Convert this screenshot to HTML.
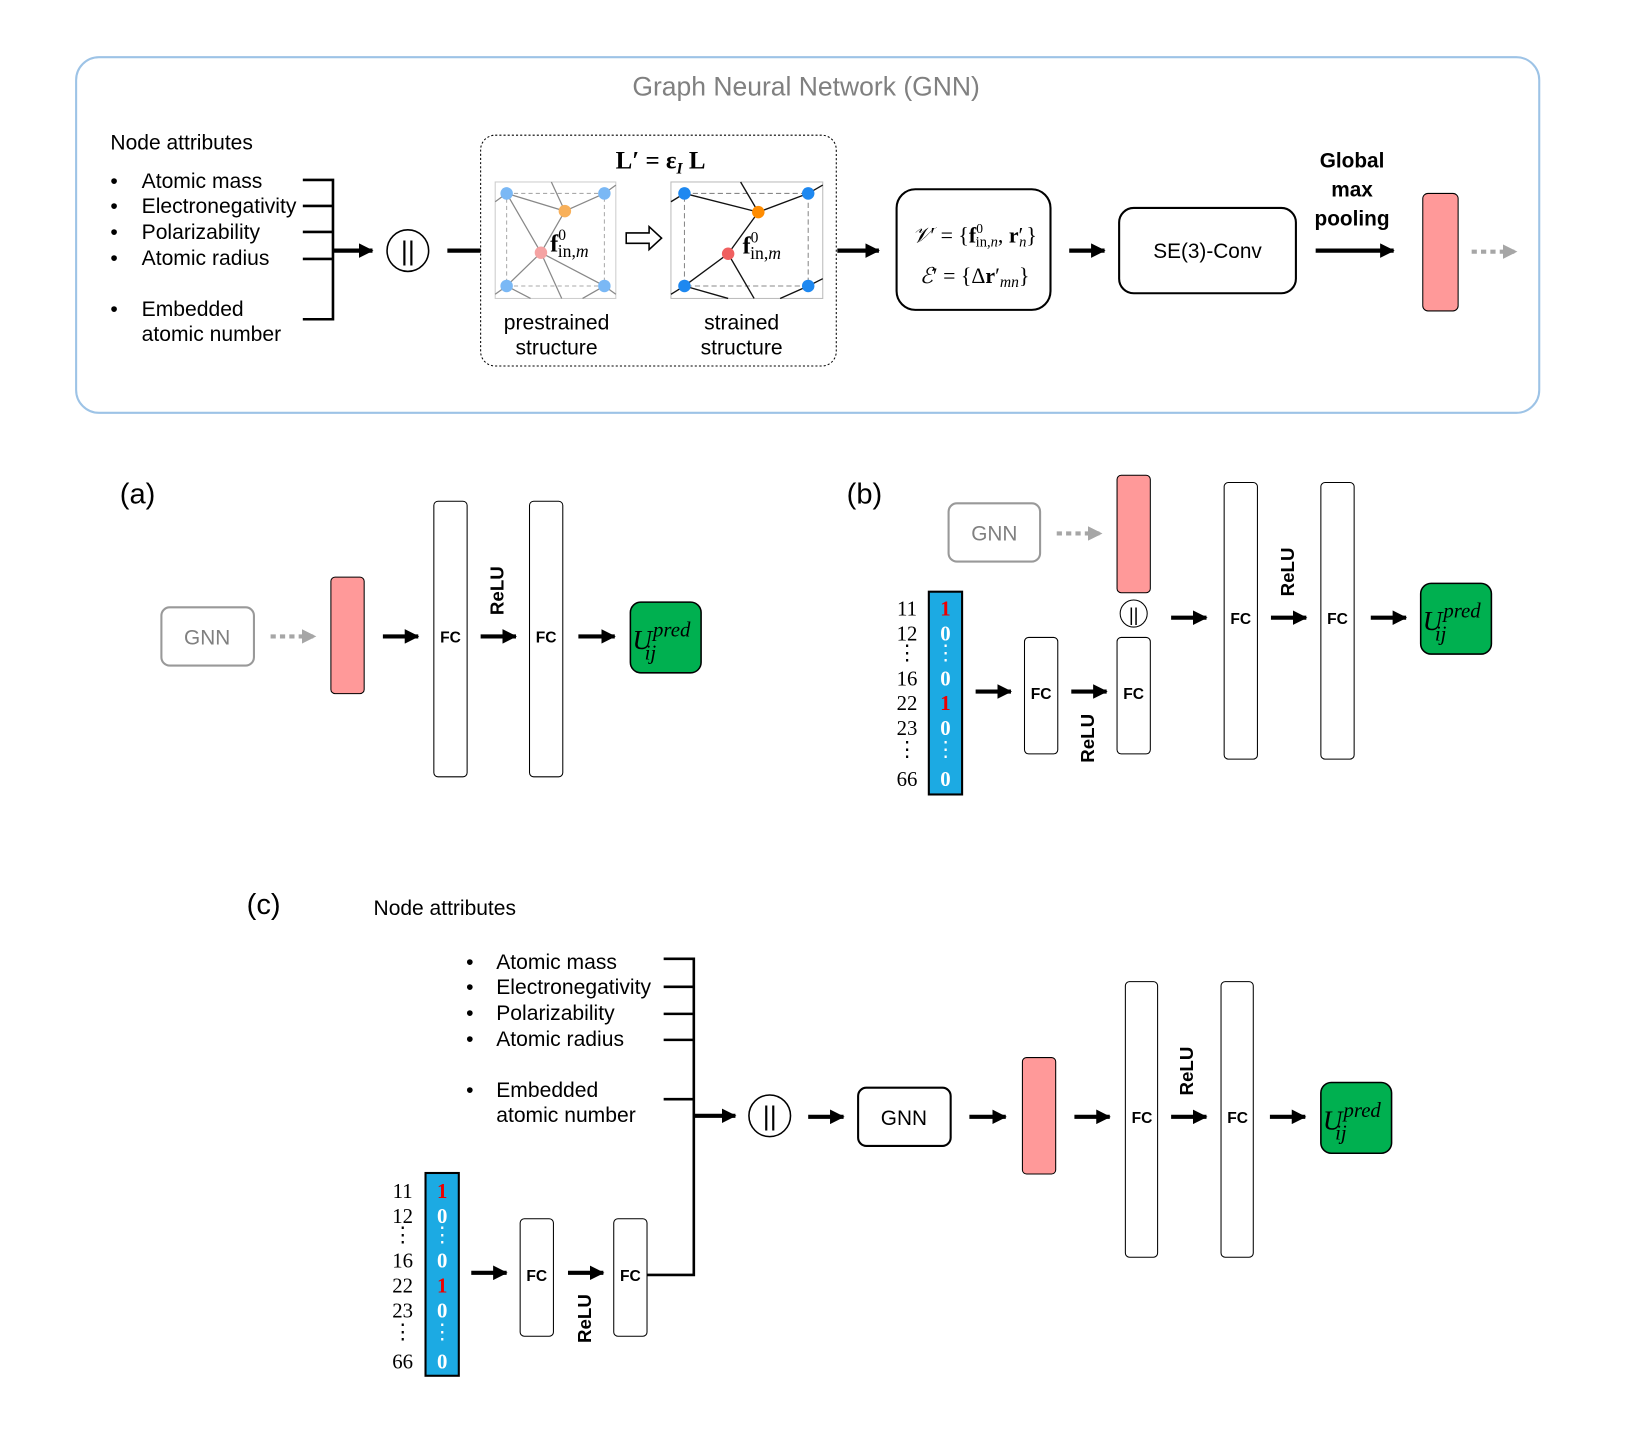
<!DOCTYPE html>
<html><head><meta charset="utf-8"><style>
html,body{margin:0;padding:0;background:#fff;}
svg{display:block;}
.s{font-family:"Liberation Sans",sans-serif;}
.m{font-family:"Liberation Serif",serif;}
.fc{font-family:"Liberation Sans",sans-serif;font-weight:bold;font-size:15px;}
</style></head><body>
<svg width="1632" height="1434" viewBox="0 0 1569 1379" xmlns="http://www.w3.org/2000/svg">
<defs>
<marker id="ah" markerUnits="userSpaceOnUse" markerWidth="14" markerHeight="14" refX="13" refY="7" orient="auto"><path d="M0,0 L14,7 L0,14 Z" fill="#000"/></marker>
<marker id="gh" markerUnits="userSpaceOnUse" markerWidth="14" markerHeight="14" refX="13" refY="7" orient="auto"><path d="M0,0 L14,7 L0,14 Z" fill="#a6a6a6"/></marker>
</defs>
<g class="s">
<!-- top box -->
<rect x="73" y="55" width="1407" height="342" rx="22" fill="none" stroke="#9dc3e6" stroke-width="2"/>
<text x="775" y="92" text-anchor="middle" font-size="25.5" fill="#808080">Graph Neural Network (GNN)</text>
<text x="106" y="144" font-size="20.2">Node attributes</text>
<g font-size="20.3">
<text x="106" y="181">•</text><text x="136" y="181">Atomic mass</text>
<text x="106" y="205">•</text><text x="136" y="205">Electronegativity</text>
<text x="106" y="230">•</text><text x="136" y="230">Polarizability</text>
<text x="106" y="255">•</text><text x="136" y="255">Atomic radius</text>
<text x="106" y="304">•</text><text x="136" y="304">Embedded</text>
<text x="136" y="328">atomic number</text>
</g>
<g stroke="#000" stroke-width="2.5" fill="none">
<path d="M291,173H320V307H291 M291,198H320 M291,223H320 M291,249H320"/>
</g>
<line x1="320" y1="241" x2="358" y2="241" stroke="#000" stroke-width="4" marker-end="url(#ah)"/>
<circle cx="392" cy="241" r="20" fill="none" stroke="#000" stroke-width="1.5"/>
<text x="392" y="250" text-anchor="middle" font-size="26">||</text>
<line x1="430" y1="241" x2="462" y2="241" stroke="#000" stroke-width="4"/>
<rect x="462" y="130" width="342" height="222" rx="14" fill="none" stroke="#000" stroke-width="1" stroke-dasharray="2,2"/>
<text x="635" y="162" text-anchor="middle" class="m" font-size="24" font-weight="bold">L′ = ε<tspan font-size="15" dy="5" font-style="italic">I</tspan><tspan dy="-5"> L</tspan></text>
<!-- left lattice -->
<rect x="476" y="175" width="116" height="112" fill="#fff" stroke="#ccc"/>
<rect x="487" y="186" width="94" height="89" fill="none" stroke="#aaa" stroke-dasharray="4,3"/>
<g stroke="#888" stroke-width="1.2">
<line x1="487" y1="186" x2="543" y2="203"/><line x1="543" y1="203" x2="581" y2="186"/>
<line x1="543" y1="203" x2="520" y2="243"/><line x1="487" y1="186" x2="520" y2="243"/>
<line x1="520" y1="243" x2="487" y2="275"/><line x1="520" y1="243" x2="581" y2="275"/>
<line x1="520" y1="243" x2="540" y2="287"/><line x1="530" y1="175" x2="543" y2="203"/>
<line x1="476" y1="194" x2="487" y2="186"/><line x1="581" y1="186" x2="592" y2="178"/>
<line x1="476" y1="283" x2="487" y2="275"/><line x1="581" y1="275" x2="592" y2="283"/>
<line x1="487" y1="275" x2="510" y2="287"/><line x1="581" y1="275" x2="560" y2="287"/>
</g>
<g fill="#7ab8f5"><circle cx="487" cy="186" r="6"/><circle cx="581" cy="186" r="6"/><circle cx="487" cy="275" r="6"/><circle cx="581" cy="275" r="6"/></g>
<circle cx="543" cy="203" r="6" fill="#f8b05a"/><circle cx="520" cy="243" r="6" fill="#f5a3a3"/>
<text x="529" y="242" class="m" font-size="23" font-weight="bold">f<tspan font-size="15" dy="-11" font-weight="normal">0</tspan><tspan font-size="17" dx="-8" dy="16" font-weight="normal">in,<tspan font-style="italic">m</tspan></tspan></text>
<!-- hollow arrow -->
<path d="M602,224H624V218L636,229L624,240V234H602Z" fill="#fff" stroke="#000" stroke-width="1.5"/>
<!-- right lattice -->
<rect x="645" y="175" width="146" height="112" fill="#fff" stroke="#bbb"/>
<rect x="658" y="186" width="119" height="89" fill="none" stroke="#888" stroke-dasharray="5,3"/>
<g stroke="#111" stroke-width="1.3">
<line x1="658" y1="186" x2="729" y2="204"/><line x1="729" y1="204" x2="777" y2="186"/>
<line x1="729" y1="204" x2="700" y2="244"/><line x1="712" y1="175" x2="729" y2="204"/>
<line x1="700" y1="244" x2="658" y2="275"/><line x1="700" y1="244" x2="725" y2="287"/>
<line x1="645" y1="194" x2="658" y2="186"/><line x1="777" y1="186" x2="791" y2="178"/>
<line x1="645" y1="283" x2="658" y2="275"/><line x1="658" y1="275" x2="700" y2="287"/>
<line x1="777" y1="275" x2="791" y2="268"/><line x1="777" y1="275" x2="750" y2="287"/>
</g>
<g fill="#1e88f0"><circle cx="658" cy="186" r="6"/><circle cx="777" cy="186" r="6"/><circle cx="658" cy="275" r="6"/><circle cx="777" cy="275" r="6"/></g>
<circle cx="729" cy="204" r="6" fill="#ff8c00"/><circle cx="700" cy="244" r="6" fill="#f06060"/>
<text x="714" y="244" class="m" font-size="23" font-weight="bold">f<tspan font-size="15" dy="-11" font-weight="normal">0</tspan><tspan font-size="17" dx="-8" dy="16" font-weight="normal">in,<tspan font-style="italic">m</tspan></tspan></text>
<g font-size="20.3" text-anchor="middle">
<text x="535" y="317">prestrained</text><text x="535" y="341">structure</text>
<text x="713" y="317">strained</text><text x="713" y="341">structure</text>
</g>
<line x1="805" y1="241" x2="845" y2="241" stroke="#000" stroke-width="4" marker-end="url(#ah)"/>
<rect x="862" y="182" width="148" height="116" rx="18" fill="none" stroke="#000" stroke-width="2"/>
<text x="937" y="233" text-anchor="middle" class="m" font-size="21"><tspan font-style="italic">𝒱</tspan>′ = {<tspan font-weight="bold">f</tspan><tspan font-size="13" dy="-9">0</tspan><tspan font-size="14" dx="-7" dy="13">in,<tspan font-style="italic">n</tspan></tspan><tspan dy="-4">, </tspan><tspan font-weight="bold">r</tspan>′<tspan font-size="14" font-style="italic" dx="-4" dy="4">n</tspan><tspan dy="-4">}</tspan></text>
<text x="937" y="272" text-anchor="middle" class="m" font-size="21"><tspan font-style="italic">ℰ</tspan>′ = {Δ<tspan font-weight="bold">r</tspan>′<tspan font-size="15" font-style="italic" dy="4">mn</tspan><tspan dy="-4">}</tspan></text>
<line x1="1028" y1="241" x2="1062" y2="241" stroke="#000" stroke-width="4" marker-end="url(#ah)"/>
<rect x="1076" y="200" width="170" height="82" rx="14" fill="none" stroke="#000" stroke-width="2"/>
<text x="1161" y="248" text-anchor="middle" font-size="20">SE(3)-Conv</text>
<g font-size="20" font-weight="bold" text-anchor="middle">
<text x="1300" y="161">Global</text><text x="1300" y="189">max</text><text x="1300" y="217">pooling</text>
</g>
<line x1="1265" y1="241" x2="1340" y2="241" stroke="#000" stroke-width="4" marker-end="url(#ah)"/>
<rect x="1368" y="186" width="34" height="113" rx="5" fill="#ff9999" stroke="#000"/>
<line x1="1415" y1="242" x2="1458" y2="242" stroke="#a6a6a6" stroke-width="4" stroke-dasharray="5,4" marker-end="url(#gh)"/>

<!-- (a) -->
<text x="115" y="484" font-size="28">(a)</text>
<rect x="155" y="584" width="89" height="56" rx="8" fill="none" stroke="#999" stroke-width="2"/>
<text x="199" y="620" text-anchor="middle" font-size="20" fill="#808080">GNN</text>
<line x1="260" y1="612" x2="303" y2="612" stroke="#a6a6a6" stroke-width="4" stroke-dasharray="5,4" marker-end="url(#gh)"/>
<rect x="318" y="555" width="32" height="112" rx="4" fill="#ff9999" stroke="#000"/>
<line x1="368" y1="612" x2="402" y2="612" stroke="#000" stroke-width="4" marker-end="url(#ah)"/>
<rect x="417" y="482" width="32" height="265" rx="4" fill="none" stroke="#000"/>
<text x="433" y="618" text-anchor="middle" class="fc">FC</text>
<text transform="translate(484,568) rotate(-90)" text-anchor="middle" font-size="18" font-weight="bold">ReLU</text>
<line x1="462" y1="612" x2="496" y2="612" stroke="#000" stroke-width="4" marker-end="url(#ah)"/>
<rect x="509" y="482" width="32" height="265" rx="4" fill="none" stroke="#000"/>
<text x="525" y="618" text-anchor="middle" class="fc">FC</text>
<line x1="556" y1="612" x2="591" y2="612" stroke="#000" stroke-width="4" marker-end="url(#ah)"/>
<rect x="606" y="579" width="68" height="68" rx="10" fill="#00b050" stroke="#000" stroke-width="1.5"/>
<text x="608" y="624" class="m" font-size="26" font-style="italic">U<tspan font-size="20" dx="1" dy="-12">pred</tspan><tspan font-size="20" dx="-44" dy="22">ij</tspan></text>

<!-- (b) -->
<text x="814" y="484" font-size="28">(b)</text>
<rect x="912" y="484" width="88" height="56" rx="8" fill="none" stroke="#999" stroke-width="2"/>
<text x="956" y="520" text-anchor="middle" font-size="20" fill="#808080">GNN</text>
<line x1="1016" y1="513" x2="1059" y2="513" stroke="#a6a6a6" stroke-width="4" stroke-dasharray="5,4" marker-end="url(#gh)"/>
<rect x="1074" y="457" width="32" height="113" rx="4" fill="#ff9999" stroke="#000"/>
<circle cx="1090" cy="590" r="13" fill="none" stroke="#000"/>
<text x="1090" y="597" text-anchor="middle" font-size="18">||</text>
<g class="m" font-size="20" text-anchor="middle">
<text x="872" y="592">11</text><text x="872" y="616">12</text><text x="872" y="634">⋮</text>
<text x="872" y="659">16</text><text x="872" y="683">22</text><text x="872" y="707">23</text>
<text x="872" y="727">⋮</text><text x="872" y="756">66</text>
</g>
<rect x="893" y="569" width="32" height="195" fill="#1caae3" stroke="#000" stroke-width="2"/>
<g class="m" font-size="20" font-weight="bold" text-anchor="middle" fill="#fff">
<text x="909" y="592" fill="#e00">1</text><text x="909" y="616">0</text><text x="909" y="634" font-weight="normal">⋮</text>
<text x="909" y="659">0</text><text x="909" y="683" fill="#e00">1</text><text x="909" y="707">0</text>
<text x="909" y="727" font-weight="normal">⋮</text><text x="909" y="756">0</text>
</g>
<line x1="938" y1="665" x2="972" y2="665" stroke="#000" stroke-width="4" marker-end="url(#ah)"/>
<rect x="985" y="613" width="32" height="112" rx="4" fill="none" stroke="#000"/>
<text x="1001" y="672" text-anchor="middle" class="fc">FC</text>
<line x1="1030" y1="665" x2="1064" y2="665" stroke="#000" stroke-width="4" marker-end="url(#ah)"/>
<text transform="translate(1052,710) rotate(-90)" text-anchor="middle" font-size="18" font-weight="bold">ReLU</text>
<rect x="1074" y="613" width="32" height="112" rx="4" fill="none" stroke="#000"/>
<text x="1090" y="672" text-anchor="middle" class="fc">FC</text>
<line x1="1126" y1="594" x2="1160" y2="594" stroke="#000" stroke-width="4" marker-end="url(#ah)"/>
<rect x="1177" y="464" width="32" height="266" rx="4" fill="none" stroke="#000"/>
<text x="1193" y="600" text-anchor="middle" class="fc">FC</text>
<text transform="translate(1244,550) rotate(-90)" text-anchor="middle" font-size="18" font-weight="bold">ReLU</text>
<line x1="1222" y1="594" x2="1256" y2="594" stroke="#000" stroke-width="4" marker-end="url(#ah)"/>
<rect x="1270" y="464" width="32" height="266" rx="4" fill="none" stroke="#000"/>
<text x="1286" y="600" text-anchor="middle" class="fc">FC</text>
<line x1="1318" y1="594" x2="1352" y2="594" stroke="#000" stroke-width="4" marker-end="url(#ah)"/>
<rect x="1366" y="561" width="68" height="68" rx="10" fill="#00b050" stroke="#000" stroke-width="1.5"/>
<text x="1368" y="606" class="m" font-size="26" font-style="italic">U<tspan font-size="20" dx="1" dy="-12">pred</tspan><tspan font-size="20" dx="-44" dy="22">ij</tspan></text>

<!-- (c) -->
<text x="237" y="879" font-size="28">(c)</text>
<text x="359" y="880" font-size="20.2">Node attributes</text>
<g font-size="20.3">
<text x="448" y="932">•</text><text x="477" y="932">Atomic mass</text>
<text x="448" y="956">•</text><text x="477" y="956">Electronegativity</text>
<text x="448" y="981">•</text><text x="477" y="981">Polarizability</text>
<text x="448" y="1006">•</text><text x="477" y="1006">Atomic radius</text>
<text x="448" y="1055">•</text><text x="477" y="1055">Embedded</text>
<text x="477" y="1079">atomic number</text>
</g>
<g stroke="#000" stroke-width="2.5" fill="none">
<path d="M638,922H667V1226H622 M638,949H667 M638,975H667 M638,1000H667 M638,1057H667"/>
</g>
<line x1="667" y1="1073" x2="707" y2="1073" stroke="#000" stroke-width="4" marker-end="url(#ah)"/>
<circle cx="740" cy="1073" r="20" fill="none" stroke="#000" stroke-width="1.5"/>
<text x="740" y="1082" text-anchor="middle" font-size="26">||</text>
<line x1="777" y1="1074" x2="811" y2="1074" stroke="#000" stroke-width="4" marker-end="url(#ah)"/>
<rect x="825" y="1046" width="89" height="56" rx="8" fill="none" stroke="#000" stroke-width="2"/>
<text x="869" y="1082" text-anchor="middle" font-size="20">GNN</text>
<line x1="932" y1="1074" x2="967" y2="1074" stroke="#000" stroke-width="4" marker-end="url(#ah)"/>
<rect x="983" y="1017" width="32" height="112" rx="4" fill="#ff9999" stroke="#000"/>
<line x1="1033" y1="1074" x2="1067" y2="1074" stroke="#000" stroke-width="4" marker-end="url(#ah)"/>
<rect x="1082" y="944" width="31" height="265" rx="4" fill="none" stroke="#000"/>
<text x="1098" y="1080" text-anchor="middle" class="fc">FC</text>
<text transform="translate(1147,1030) rotate(-90)" text-anchor="middle" font-size="18" font-weight="bold">ReLU</text>
<line x1="1126" y1="1074" x2="1160" y2="1074" stroke="#000" stroke-width="4" marker-end="url(#ah)"/>
<rect x="1174" y="944" width="31" height="265" rx="4" fill="none" stroke="#000"/>
<text x="1190" y="1080" text-anchor="middle" class="fc">FC</text>
<line x1="1221" y1="1074" x2="1255" y2="1074" stroke="#000" stroke-width="4" marker-end="url(#ah)"/>
<rect x="1270" y="1041" width="68" height="68" rx="10" fill="#00b050" stroke="#000" stroke-width="1.5"/>
<text x="1272" y="1086" class="m" font-size="26" font-style="italic">U<tspan font-size="20" dx="1" dy="-12">pred</tspan><tspan font-size="20" dx="-44" dy="22">ij</tspan></text>
<g class="m" font-size="20" text-anchor="middle">
<text x="387" y="1152">11</text><text x="387" y="1176">12</text><text x="387" y="1194">⋮</text>
<text x="387" y="1219">16</text><text x="387" y="1243">22</text><text x="387" y="1267">23</text>
<text x="387" y="1287">⋮</text><text x="387" y="1316">66</text>
</g>
<rect x="409" y="1128" width="32" height="195" fill="#1caae3" stroke="#000" stroke-width="2"/>
<g class="m" font-size="20" font-weight="bold" text-anchor="middle" fill="#fff">
<text x="425" y="1152" fill="#e00">1</text><text x="425" y="1176">0</text><text x="425" y="1194" font-weight="normal">⋮</text>
<text x="425" y="1219">0</text><text x="425" y="1243" fill="#e00">1</text><text x="425" y="1267">0</text>
<text x="425" y="1287" font-weight="normal">⋮</text><text x="425" y="1316">0</text>
</g>
<line x1="453" y1="1224" x2="487" y2="1224" stroke="#000" stroke-width="4" marker-end="url(#ah)"/>
<rect x="500" y="1172" width="32" height="113" rx="4" fill="none" stroke="#000"/>
<text x="516" y="1232" text-anchor="middle" class="fc">FC</text>
<line x1="546" y1="1224" x2="580" y2="1224" stroke="#000" stroke-width="4" marker-end="url(#ah)"/>
<text transform="translate(568,1268) rotate(-90)" text-anchor="middle" font-size="18" font-weight="bold">ReLU</text>
<rect x="590" y="1172" width="32" height="113" rx="4" fill="none" stroke="#000"/>
<text x="606" y="1232" text-anchor="middle" class="fc">FC</text>
</g>
</svg>
</body></html>
